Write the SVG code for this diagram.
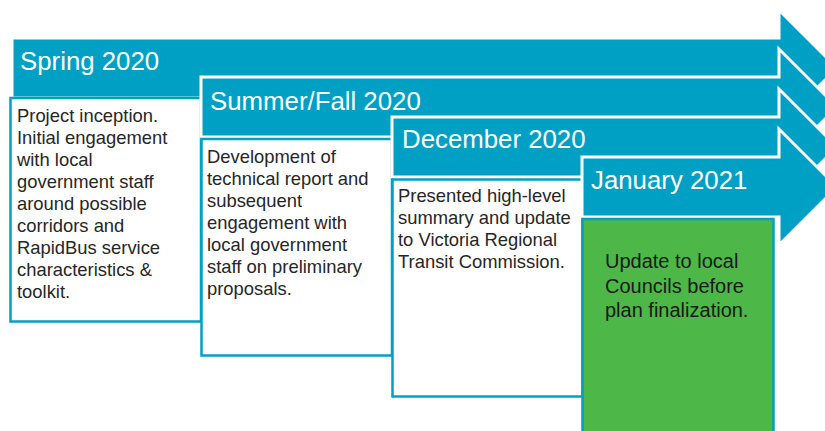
<svg xmlns="http://www.w3.org/2000/svg" width="825" height="431" viewBox="0 0 825 431">
<style>
.arrow{fill:#00A0C4;stroke:#ffffff;stroke-width:3;stroke-linejoin:miter}
.box{fill:#ffffff;stroke:#00A0C4;stroke-width:2.5}
.green{fill:#4DB748;stroke:#00A0C4;stroke-width:2.5}
.hd{font-family:"Liberation Sans",Arial,sans-serif;font-size:25.8px;fill:#ffffff}
.tx{font-family:"Liberation Sans",Arial,sans-serif;font-size:18.4px;fill:#262626}
.tg{font-family:"Liberation Sans",Arial,sans-serif;font-size:20px;fill:#1a1a1a}
</style>
<rect width="825" height="431" fill="#ffffff"/>
<g id="spring">
<path class="arrow" d="M12,38 H779 V10 L837,68 L779,126 V98 H12 Z"/>
<text class="hd" x="20" y="70">Spring 2020</text>
</g>
<g id="spring-box">
<rect class="box" x="10.5" y="98" width="190.5" height="223.5"/>
<text class="tx" x="17" y="122">Project inception.</text>
<text class="tx" x="17" y="144">Initial engagement</text>
<text class="tx" x="17" y="166">with local</text>
<text class="tx" x="17" y="188">government staff</text>
<text class="tx" x="17" y="210">around possible</text>
<text class="tx" x="17" y="232">corridors and</text>
<text class="tx" x="17" y="254">RapidBus service</text>
<text class="tx" x="17" y="276">characteristics &amp;</text>
<text class="tx" x="17" y="298">toolkit.</text>
</g>
<g id="summer">
<path class="arrow" d="M201,77 H779 V49 L837,107 L779,165 V137 H201 Z"/>
<text class="hd" x="210" y="110">Summer/Fall 2020</text>
</g>
<g id="summer-box">
<rect class="box" x="201.5" y="139" width="190.5" height="216.5"/>
<text class="tx" x="207" y="163">Development of</text>
<text class="tx" x="207" y="185">technical report and</text>
<text class="tx" x="207" y="207">subsequent</text>
<text class="tx" x="207" y="229">engagement with</text>
<text class="tx" x="207" y="251">local government</text>
<text class="tx" x="207" y="273">staff on preliminary</text>
<text class="tx" x="207" y="295">proposals.</text>
</g>
<g id="december">
<path class="arrow" d="M392,117 H779 V89 L837,147 L779,205 V177 H392 Z"/>
<text class="hd" x="402" y="148">December 2020</text>
</g>
<g id="december-box">
<rect class="box" x="392.5" y="179.5" width="190" height="217"/>
<text class="tx" x="398" y="202">Presented high-level</text>
<text class="tx" x="398" y="224">summary and update</text>
<text class="tx" x="398" y="246">to Victoria Regional</text>
<text class="tx" x="398" y="268">Transit Commission.</text>
</g>
<g id="january">
<path class="arrow" d="M582,157 H779 V129 L837,187 L779,245 V217 H582 Z"/>
<text class="hd" x="591" y="189">January 2021</text>
</g>
<g id="january-box">
<rect class="green" x="582.5" y="219" width="191" height="220"/>
<text class="tg" x="605" y="268">Update to local</text>
<text class="tg" x="605" y="293">Councils before</text>
<text class="tg" x="605" y="317">plan finalization.</text>
</g>
<g id="connectors"/>
</svg>
